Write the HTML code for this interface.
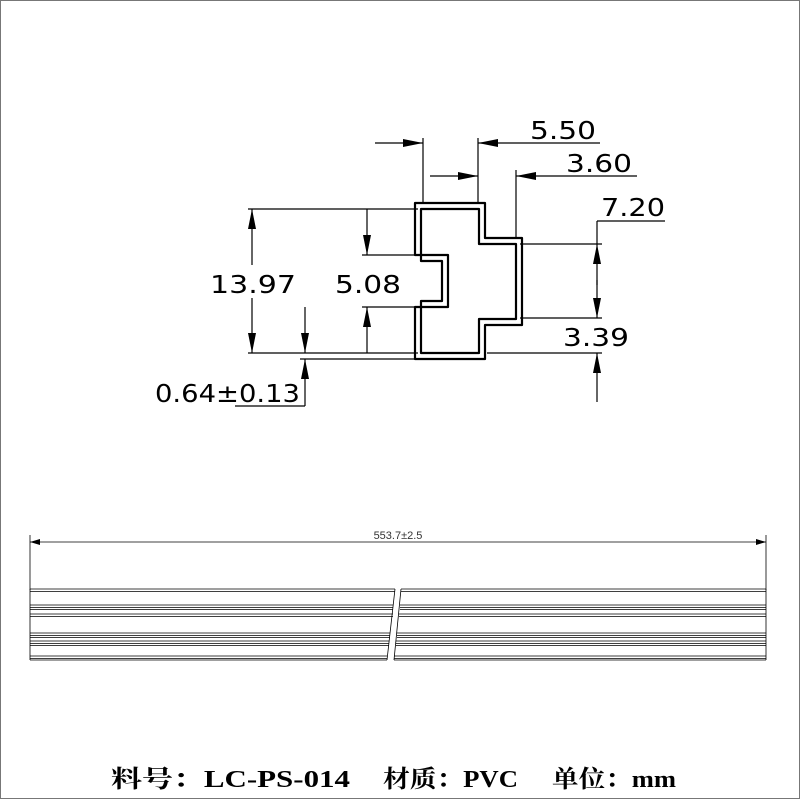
<!DOCTYPE html>
<html><head><meta charset="utf-8"><style>
html,body{margin:0;padding:0;background:#fff}
svg{display:block}
</style></head><body>
<svg width="800" height="800" viewBox="0 0 800 800" xmlns="http://www.w3.org/2000/svg">
<rect x="0.5" y="0.5" width="799" height="798" fill="#fff" stroke="#777" stroke-width="1"/>
<defs>
<marker id="a" viewBox="0 0 20 8" refX="20" refY="4" markerWidth="20" markerHeight="8" markerUnits="userSpaceOnUse" orient="auto"><path d="M0,0L20,4L0,8z" fill="#000"/></marker>
</defs>
<g fill="none" stroke="#000" stroke-width="2.2" stroke-linejoin="round">
<path d="M415,203H485V238H522V325H485V359H415V307H448V255H415Z"/>
<path d="M421,209H479V244H516V319H479V353H421V301H442V261H421Z"/>
</g>
<g stroke="#000" stroke-width="1.2" fill="none">
<line x1="423" y1="138" x2="423" y2="203"/>
<line x1="478" y1="138" x2="478" y2="203"/>
<line x1="375" y1="143" x2="423" y2="143" marker-end="url(#a)"/>
<line x1="600" y1="143" x2="478" y2="143" marker-end="url(#a)"/>
<line x1="516" y1="170" x2="516" y2="238"/>
<line x1="430" y1="176" x2="478" y2="176" marker-end="url(#a)"/>
<line x1="637" y1="176" x2="516" y2="176" marker-end="url(#a)"/>
<line x1="597" y1="221" x2="665" y2="221"/>
<line x1="597" y1="221" x2="597" y2="244"/>
<line x1="520" y1="244" x2="602" y2="244"/>
<line x1="520" y1="318" x2="602" y2="318"/>
<line x1="487" y1="353" x2="602" y2="353"/>
<line x1="597" y1="285" x2="597" y2="244" marker-end="url(#a)"/>
<line x1="597" y1="280" x2="597" y2="318" marker-end="url(#a)"/>
<line x1="597" y1="402" x2="597" y2="353" marker-end="url(#a)"/>
<line x1="248" y1="209" x2="418" y2="209"/>
<line x1="248" y1="353" x2="418" y2="353"/>
<line x1="252" y1="265" x2="252" y2="209" marker-end="url(#a)"/>
<line x1="252" y1="298" x2="252" y2="353" marker-end="url(#a)"/>
<line x1="362" y1="255" x2="418" y2="255"/>
<line x1="362" y1="307" x2="418" y2="307"/>
<line x1="367" y1="209" x2="367" y2="255" marker-end="url(#a)"/>
<line x1="367" y1="353" x2="367" y2="307" marker-end="url(#a)"/>
<line x1="300" y1="359" x2="418" y2="359"/>
<line x1="305" y1="307" x2="305" y2="353" marker-end="url(#a)"/>
<line x1="305" y1="406" x2="305" y2="359" marker-end="url(#a)"/>
<line x1="235" y1="406" x2="305" y2="406"/>
</g>
<g font-family="DejaVu Sans, Liberation Sans, sans-serif" font-size="25" fill="#000">
<text x="530" y="139" textLength="66" lengthAdjust="spacingAndGlyphs">5.50</text>
<text x="566" y="172" textLength="66" lengthAdjust="spacingAndGlyphs">3.60</text>
<text x="601" y="216" textLength="64" lengthAdjust="spacingAndGlyphs">7.20</text>
<text x="563" y="346" textLength="66" lengthAdjust="spacingAndGlyphs">3.39</text>
<text x="210" y="293" textLength="86" lengthAdjust="spacingAndGlyphs">13.97</text>
<text x="335" y="293" textLength="66" lengthAdjust="spacingAndGlyphs">5.08</text>
<text x="155" y="402" textLength="145" lengthAdjust="spacingAndGlyphs">0.64±0.13</text>
</g>
<g stroke="#000" stroke-width="0.8" fill="none">
<line x1="30" y1="535" x2="30" y2="590"/>
<line x1="766" y1="535" x2="766" y2="590"/>
<line x1="30" y1="542" x2="766" y2="542"/>
</g>
<path d="M30,542l10,-3v6z M766,542l-10,-3v6z" fill="#000"/>
<text x="398" y="539" font-family="Liberation Sans, sans-serif" font-size="11" text-anchor="middle" fill="#333">553.7±2.5</text>
<g stroke="#000" stroke-width="0.8" fill="none">
<path d="M30,589H395 M30,591.5H395 M401,589H766 M401,591.5H766"/>
<path d="M30,605H393 M30,607.5H393 M30,609.5H393 M400,605H766 M400,607.5H766 M400,609.5H766"/>
<path d="M30,614H393 M30,616.5H393 M399,614H766 M399,616.5H766"/>
<path d="M30,633H390 M30,635.5H390 M30,637.5H390 M397,633H766 M397,635.5H766 M397,637.5H766"/>
<path d="M30,641H389 M30,643.5H389 M30,645.5H389 M396,641H766 M396,643.5H766 M396,645.5H766"/>
<path d="M30,656H387 M30,658.5H387 M30,660H387 M394,656H766 M394,658.5H766 M394,660H766"/>
<path d="M30,589V660 M766,589V660"/>
<path d="M395,589L387,660 M401,589L394,660"/>
</g>
<g font-family="Liberation Serif, Noto Serif CJK SC, serif" font-weight="bold" font-size="24" fill="#000">
<text x="111" y="787" textLength="239" lengthAdjust="spacingAndGlyphs">料号：LC-PS-014</text>
<text x="383" y="787" textLength="135" lengthAdjust="spacingAndGlyphs">材质：PVC</text>
<text x="552" y="787" textLength="124" lengthAdjust="spacingAndGlyphs">单位：mm</text>
</g>
</svg>
</body></html>
